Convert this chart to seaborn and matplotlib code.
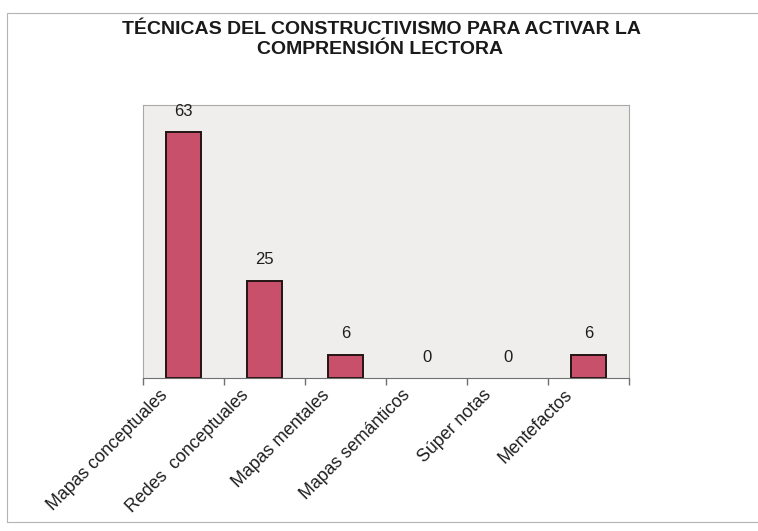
import matplotlib.pyplot as plt
import matplotlib.transforms as mtransforms
import seaborn as sns
import pandas as pd
import numpy as np
from matplotlib.patches import Rectangle

# Data
categories = ["Mapas conceptuales", "Redes  conceptuales", "Mapas mentales",
              "Mapas semánticos", "Súper notas", "Mentefactos"]
values = [63, 25, 6, 0, 0, 6]
title_lines = ["TÉCNICAS DEL CONSTRUCTIVISMO PARA ACTIVAR LA",
               "COMPRENSIÓN LECTORA"]

df = pd.DataFrame({"tecnica": categories, "valor": values})

sns.set_theme(style="white")
plt.rcParams['font.family'] = ['Liberation Sans', 'DejaVu Sans']

fig = plt.figure(figsize=(7.58, 5.31), dpi=100)
fig.patch.set_facecolor("white")

# outer frame of the chart area (right edge runs off the picture)
fig.patches.append(Rectangle((0.009, 0.017), 1.2, 0.958, transform=fig.transFigure,
                             fill=False, edgecolor="#b4b4b4", linewidth=0.8))

ax = fig.add_axes([0.189, 0.288, 0.641, 0.514])
ax.set_facecolor("#efeeec")

sns.barplot(data=df, x="tecnica", y="valor", color="#c9506b", width=0.43,
            edgecolor="#241515", linewidth=1.4, saturation=1, ax=ax)

# zero bars are not visible in the original
for bar, v in zip(ax.patches, values):
    if v == 0:
        bar.set_visible(False)

ax.set_ylim(0, 70)
ax.set_xlim(-0.5, len(categories) - 0.5)
ax.set_yticks([])
ax.set_xlabel("")
ax.set_ylabel("")

for spine in ax.spines.values():
    spine.set_edgecolor("#a8a8a8")
    spine.set_linewidth(0.8)
ax.spines["bottom"].set_edgecolor("#707070")

# value labels
for i, v in enumerate(values):
    ax.annotate(str(v), (i, v), xytext=(0, 15), textcoords="offset points",
                ha="center", va="center", fontsize=12, color="#1e1e1e")

# category labels, rotated, shifted a bit to the left of the category centre
ax.set_xticks(range(len(categories)))
ax.set_xticklabels(categories, rotation=45, ha="right", rotation_mode="anchor",
                   fontsize=12.8, color="#1e1e1e")
ax.tick_params(axis="x", which="major", length=0, pad=6)
shift = mtransforms.ScaledTranslation(-25 / 100, 0, fig.dpi_scale_trans)
for lbl in ax.get_xticklabels():
    lbl.set_transform(lbl.get_transform() + shift)
ax.set_xticks(np.arange(-0.5, len(categories)), minor=True)
ax.tick_params(axis="x", which="minor", length=5, color="#707070", bottom=True)

# title
fig.text(381 / 758, 1 - 30 / 531, title_lines[0], ha="center", va="center",
         fontsize=14, fontweight="bold", color="#1a1a1a")
fig.text(380 / 758, 1 - 50 / 531, title_lines[1], ha="center", va="center",
         fontsize=14, fontweight="bold", color="#1a1a1a")

fig.savefig("out.png", dpi=100)
